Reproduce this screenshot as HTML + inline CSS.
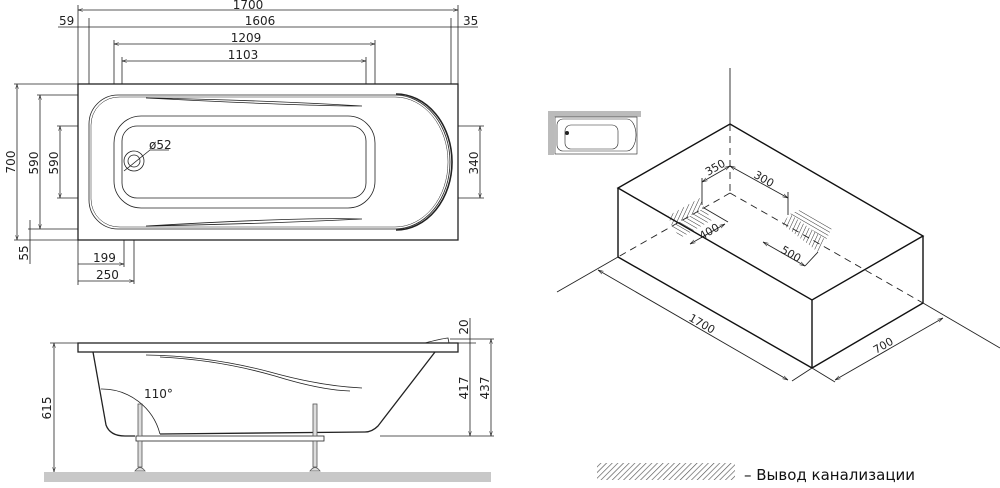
<!DOCTYPE html>
<html><head><meta charset="utf-8"><style>
html,body{margin:0;padding:0;background:#fff;}
svg{display:block;}
text{font-family:"DejaVu Sans","Liberation Sans",sans-serif;font-size:12px;fill:#222;}
</style></head><body>
<svg width="1000" height="488" viewBox="0 0 1000 488" xmlns="http://www.w3.org/2000/svg">
<defs>
<marker id="a" viewBox="0 0 10 10" refX="10" refY="5" markerWidth="6" markerHeight="6" orient="auto-start-reverse"><path d="M0,2 L10,5 L0,8" fill="none" stroke="#222" stroke-width="1"/></marker>
<pattern id="h" width="4" height="4" patternUnits="userSpaceOnUse" patternTransform="rotate(45)"><line x1="0" y1="0" x2="0" y2="4" stroke="#555" stroke-width="1.3"/></pattern>
<pattern id="hA" width="3.5" height="4" patternUnits="userSpaceOnUse" patternTransform="rotate(25)"><line x1="0" y1="0" x2="0" y2="4" stroke="#333" stroke-width="1"/></pattern>
<pattern id="hB" width="3.5" height="4" patternUnits="userSpaceOnUse" patternTransform="rotate(-60)"><line x1="0" y1="0" x2="0" y2="4" stroke="#333" stroke-width="1"/></pattern>
</defs>
<g stroke="#222" fill="none" stroke-width="0.8">
<!-- TOP VIEW -->
<rect x="78" y="84" width="380" height="156" stroke-width="1.3"/>
<path d="M118,95 H395 A55,67 0 0 1 395,229 H118 A29,29 0 0 1 89,200 V124 A29,29 0 0 1 118,95 Z"/>
<path d="M120,97 H395 A53,65 0 0 1 395,227 H120 A28,28 0 0 1 91,199 V125 A28,28 0 0 1 120,97 Z" stroke-width="0.5"/>
<path d="M396,94 A56,68 0 0 1 396,230" stroke-width="1.6"/>
<path d="M146,98 Q260,100 362,106 Q300,106 146,98 Z"/>
<path d="M146,226 Q260,224 362,219 Q300,217 146,226 Z"/>
<rect x="114" y="116" width="261" height="92" rx="27"/>
<rect x="122" y="126" width="244" height="72" rx="15"/>
<circle cx="134" cy="161" r="10"/><circle cx="134" cy="161" r="6"/>
<line x1="124" y1="171" x2="150" y2="150"/><line x1="150" y1="150" x2="169" y2="150"/>
<line x1="78" y1="84" x2="78" y2="5"/><line x1="458" y1="84" x2="458" y2="5"/>
<line x1="89" y1="84" x2="89" y2="18"/><line x1="451" y1="84" x2="451" y2="18"/>
<line x1="114" y1="84" x2="114" y2="40"/><line x1="375" y1="84" x2="375" y2="40"/>
<line x1="122" y1="84" x2="122" y2="57"/><line x1="366" y1="84" x2="366" y2="57"/>
<line x1="78" y1="10" x2="458" y2="10" marker-start="url(#a)" marker-end="url(#a)"/>
<line x1="58" y1="27" x2="478" y2="27"/>
<line x1="114" y1="44" x2="375" y2="44" marker-start="url(#a)" marker-end="url(#a)"/>
<line x1="122" y1="61" x2="366" y2="61" marker-start="url(#a)" marker-end="url(#a)"/>
<line x1="78" y1="84" x2="14" y2="84"/><line x1="78" y1="240" x2="14" y2="240"/>
<line x1="17" y1="84" x2="17" y2="240" marker-start="url(#a)" marker-end="url(#a)"/>
<line x1="78" y1="95" x2="37" y2="95"/><line x1="78" y1="229" x2="28" y2="229"/>
<line x1="40" y1="95" x2="40" y2="229" marker-start="url(#a)" marker-end="url(#a)"/>
<line x1="78" y1="126" x2="57" y2="126"/><line x1="78" y1="198" x2="57" y2="198"/>
<line x1="60" y1="126" x2="60" y2="198" marker-start="url(#a)" marker-end="url(#a)"/>
<line x1="30" y1="220" x2="30" y2="264"/>
<line x1="458" y1="126" x2="484" y2="126"/><line x1="458" y1="198" x2="484" y2="198"/>
<line x1="480" y1="126" x2="480" y2="198" marker-start="url(#a)" marker-end="url(#a)"/>
<line x1="78" y1="240" x2="78" y2="285"/><line x1="124" y1="240" x2="124" y2="267"/><line x1="134" y1="240" x2="134" y2="284"/>
<line x1="78" y1="264" x2="124" y2="264" marker-end="url(#a)"/>
<line x1="78" y1="281" x2="134" y2="281" marker-end="url(#a)"/>
<!-- SIDE VIEW -->
<rect x="78" y="343" width="380" height="9" stroke-width="1.3"/>
<path d="M425,343 Q440,339 448,338 L449,343" />
<path d="M93,352 L106,425 Q110,436 125,436 L135,436" stroke-width="1.3"/>
<path d="M160,434 L365,432 Q372,432 378,426 L435,352" stroke-width="1.3"/>
<path d="M146,355 Q210,356 270,372 Q320,386 362,388"/>
<path d="M160,357 Q220,360 275,376 Q320,390 350,391"/>
<rect x="136" y="436" width="188" height="5" fill="#fff"/>
<g fill="#ddd" stroke="#555"><rect x="138" y="404" width="4" height="32"/><rect x="138" y="441" width="4" height="26"/><rect x="313" y="404" width="4" height="32"/><rect x="313" y="441" width="4" height="26"/>
<path d="M135,471 Q140,464 145,471 Z"/><path d="M310,471 Q315,464 320,471 Z"/></g>
<path d="M101,389 A60,60 0 0 1 160,434"/>
<line x1="50" y1="343" x2="78" y2="343"/>
<line x1="54" y1="343" x2="54" y2="472" marker-start="url(#a)" marker-end="url(#a)"/>
<line x1="380" y1="436" x2="494" y2="436"/><line x1="450" y1="339" x2="494" y2="339"/><line x1="458" y1="343" x2="476" y2="343"/>
<line x1="470" y1="318" x2="470" y2="436" marker-end="url(#a)"/>
<line x1="491" y1="339" x2="491" y2="436" marker-start="url(#a)" marker-end="url(#a)"/>
</g>
<rect x="44" y="472" width="447" height="10" fill="#c8c8c8"/>
<g>
<text x="248" y="9" text-anchor="middle">1700</text>
<text x="260" y="25" text-anchor="middle">1606</text>
<text x="246" y="42" text-anchor="middle">1209</text>
<text x="243" y="59" text-anchor="middle">1103</text>
<text x="59" y="25">59</text><text x="463" y="25">35</text>
<text x="149" y="149">ø52</text>
<text x="93" y="262">199</text><text x="96" y="279">250</text>
<text transform="translate(15,162) rotate(-90)" text-anchor="middle">700</text>
<text transform="translate(38,163) rotate(-90)" text-anchor="middle">590</text>
<text transform="translate(58,163) rotate(-90)" text-anchor="middle">590</text>
<text transform="translate(28,253) rotate(-90)" text-anchor="middle">55</text>
<text transform="translate(478,163) rotate(-90)" text-anchor="middle">340</text>
<text transform="translate(51,408) rotate(-90)" text-anchor="middle">615</text>
<text transform="translate(468,388) rotate(-90)" text-anchor="middle">417</text>
<text transform="translate(489,388) rotate(-90)" text-anchor="middle">437</text>
<text transform="translate(468,327) rotate(-90)" text-anchor="middle">20</text>
<text x="144" y="398">110°</text>
</g>
<!-- ISO VIEW -->
<rect x="548" y="111" width="93" height="6" fill="#bbb"/><rect x="548" y="111" width="6" height="44" fill="#bbb"/>
<g stroke="#222" fill="none" stroke-width="0.6">
<rect x="555" y="117" width="82" height="37"/>
<path d="M563,119 H627 A9,16 0 0 1 627,151 H563 A6,6 0 0 1 557,145 V125 A6,6 0 0 1 563,119 Z"/>
<rect x="565" y="125" width="53" height="24" rx="6"/>
</g>
<circle cx="567" cy="133" r="2" fill="#222"/>
<!-- hatches -->
<polygon points="668,216 700,198 704,208 672,226" fill="url(#hA)"/>
<polygon points="672,226 704,208 712,220 680,238" fill="url(#hB)"/>
<polygon points="790,214 800,210 832,228 826,240" fill="url(#hB)"/>
<polygon points="782,224 790,214 826,240 818,252" fill="url(#hA)"/>
<g stroke="#111" fill="none" stroke-width="1.4">
<polygon points="730,124 923,236 812,300 618,188"/>
<line x1="618" y1="188" x2="618" y2="257"/><line x1="812" y1="300" x2="812" y2="368"/><line x1="923" y1="236" x2="923" y2="303"/>
<line x1="618" y1="257" x2="812" y2="368"/><line x1="812" y1="368" x2="923" y2="303"/>
</g>
<g stroke="#222" fill="none" stroke-width="0.9">
<line x1="730" y1="68" x2="730" y2="124"/>
<line x1="618" y1="257" x2="557" y2="292"/><line x1="923" y1="303" x2="1000" y2="348"/>
<line x1="812" y1="368" x2="792" y2="381"/><line x1="812" y1="368" x2="835" y2="382"/>
<g stroke-dasharray="7,5"><line x1="730" y1="124" x2="730" y2="193"/><line x1="730" y1="193" x2="618" y2="257"/><line x1="730" y1="193" x2="923" y2="303"/></g>
<line x1="598" y1="270" x2="788" y2="380" marker-start="url(#a)" marker-end="url(#a)"/>
<line x1="835" y1="380" x2="943" y2="318" marker-start="url(#a)" marker-end="url(#a)"/>
<line x1="702" y1="205" x2="702" y2="178"/><line x1="702" y1="182" x2="730" y2="166" marker-start="url(#a)" marker-end="url(#a)"/>
<line x1="788" y1="215" x2="788" y2="192"/><line x1="730" y1="166" x2="788" y2="198" marker-start="url(#a)" marker-end="url(#a)"/>
<line x1="704" y1="208" x2="728" y2="222"/><line x1="690" y1="244" x2="725" y2="224" marker-start="url(#a)" marker-end="url(#a)"/>
<line x1="763" y1="242" x2="805" y2="266" marker-start="url(#a)" marker-end="url(#a)"/>
<line x1="805" y1="266" x2="818" y2="252"/>
</g>
<g>
<text transform="translate(708,176) rotate(-30)" style="font-size:11px">350</text>
<text transform="translate(753,177) rotate(30)" style="font-size:11px">300</text>
<text transform="translate(702,240) rotate(-30)" style="font-size:11px">400</text>
<text transform="translate(780,252) rotate(30)" style="font-size:11px">500</text>
<text transform="translate(688,320) rotate(30)" style="font-size:11px">1700</text>
<text transform="translate(876,354) rotate(-30)" style="font-size:11px">700</text>
</g>
<rect x="597" y="463" width="138" height="17" fill="url(#h)"/>
<text x="744" y="480" style="font-size:15px;fill:#111">–  Вывод канализации</text>
</svg>
</body></html>
